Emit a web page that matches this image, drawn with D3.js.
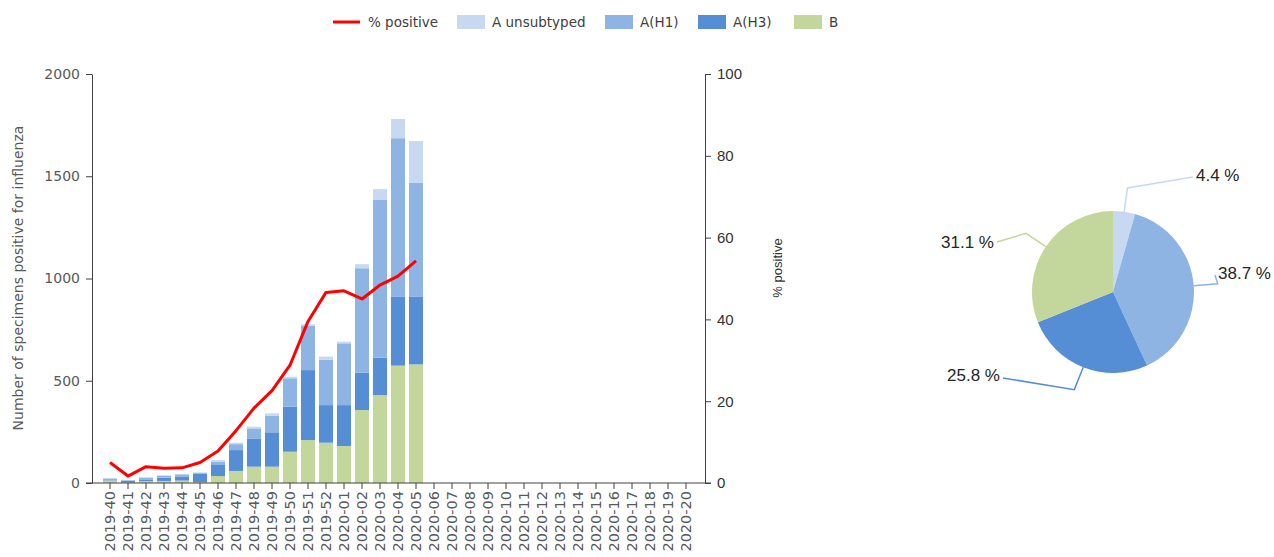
<!DOCTYPE html>
<meta charset="utf-8">
<style>
body { margin: 0; background: #fff; }
svg text { font-family: "DejaVu Sans", sans-serif; }
.axis path, .axis line { stroke: #404040; }
.left text { fill: #595959; font-size: 14px; }
.right text { fill: #333; font-size: 15px; font-family: "Liberation Sans", Arial, sans-serif; }
.xaxis text { fill: #595959; font-size: 14.5px; }
</style>
<svg width="1274" height="557"></svg>
<script src="https://d3js.org/d3.v7.min.js"></script>
<script>

// weeks on the x axis
var weeks = ["2019-40","2019-41","2019-42","2019-43","2019-44","2019-45","2019-46","2019-47",
  "2019-48","2019-49","2019-50","2019-51","2019-52","2020-01","2020-02","2020-03","2020-04",
  "2020-05","2020-06","2020-07","2020-08","2020-09","2020-10","2020-11","2020-12","2020-13",
  "2020-14","2020-15","2020-16","2020-17","2020-18","2020-19","2020-20"];

// counts per week (only first 18 weeks reported)
var typeB   = [12, 2, 9, 10, 12, 5, 34, 59, 80, 80, 153, 210, 197, 181, 357, 430, 574, 580];
var typeH3  = [2, 9, 6, 16, 20, 40, 54, 102, 138, 168, 220, 342, 184, 200, 182, 183, 336, 330];
var typeH1  = [8, 3, 11, 10, 10, 5, 16, 29, 49, 80, 139, 216, 222, 302, 511, 771, 776, 558];
var typeUns = [3, 1, 2, 2, 2, 2, 8, 7, 8, 13, 8, 8, 15, 8, 20, 53, 94, 204];
var pctPositive = [5.0, 1.7, 4.0, 3.6, 3.7, 5.0, 7.8, 12.8, 18.3, 22.6, 28.8, 39.5, 46.6, 47.0, 45.0, 48.4, 50.6, 54.3];

// season share for the pie
var pieNames = ["A unsubtyped", "A(H1)", "A(H3)", "B"];
var pieShares = [4.4, 38.7, 25.8, 31.1];

var leftTicks = [0, 500, 1000, 1500, 2000];
var rightTicks = [0, 20, 40, 60, 80, 100];

var colors = {"A unsubtyped": "#c6d9f1", "A(H1)": "#8eb4e3", "A(H3)": "#558ed5", "B": "#c3d69b"};

var svg = d3.select("svg");

var x = d3.scaleBand().domain(weeks).range([101, 695]).paddingInner(0.22).paddingOuter(0.11);
var yL = d3.scaleLinear().domain([0, 2000]).range([483, 74]);
var yR = d3.scaleLinear().domain([0, 100]).range([483, 74]);

// stacked bars
var rows = typeB.map(function(b, i) {
  return {week: weeks[i], "B": b, "A(H3)": typeH3[i], "A(H1)": typeH1[i], "A unsubtyped": typeUns[i]};
});
var stack = d3.stack().keys(["B", "A(H3)", "A(H1)", "A unsubtyped"]);

svg.append("g").selectAll("g")
  .data(stack(rows))
  .enter().append("g")
    .attr("fill", function(d) { return colors[d.key]; })
  .selectAll("rect")
  .data(function(d) { return d; })
  .enter().append("rect")
    .attr("x", function(d) { return x(d.data.week); })
    .attr("width", x.bandwidth())
    .attr("y", function(d) { return yL(d[1]); })
    .attr("height", function(d) { return yL(d[0]) - yL(d[1]); });

// axes
svg.append("g").attr("class", "axis left")
  .attr("transform", "translate(92,0)")
  .call(d3.axisLeft(yL).tickValues(leftTicks).tickFormat(d3.format("d")).tickSizeOuter(0).tickPadding(6));

svg.append("g").attr("class", "axis right")
  .attr("transform", "translate(705,0)")
  .call(d3.axisRight(yR).tickValues(rightTicks).tickSizeOuter(0).tickPadding(6));

var gx = svg.append("g").attr("class", "axis xaxis")
  .attr("transform", "translate(0,483)")
  .call(d3.axisBottom(x).tickSizeOuter(0));
gx.select(".domain").remove();
gx.append("line").attr("x1", 86).attr("x2", 711).attr("stroke", "#404040");
gx.selectAll("text")
  .attr("transform", "rotate(-90)")
  .attr("x", -8).attr("y", 0).attr("dy", "0.35em")
  .attr("text-anchor", "end");

svg.append("text")
  .attr("transform", "translate(23,278) rotate(-90)")
  .attr("text-anchor", "middle")
  .attr("fill", "#595959").style("font-size", "14px")
  .text("Number of specimens positive for influenza");

svg.append("text")
  .attr("transform", "translate(782,268) rotate(-90)")
  .attr("text-anchor", "middle")
  .attr("fill", "#333").style("font-size", "13px")
  .style("font-family", "Liberation Sans, Arial, sans-serif")
  .text("% positive");

// % positive line
var line = d3.line()
  .x(function(d, i) { return x(weeks[i]) + x.bandwidth() / 2; })
  .y(function(d) { return yR(d); });

svg.append("path")
  .datum(pctPositive)
  .attr("fill", "none")
  .attr("stroke", "#ff0000")
  .attr("stroke-width", 3)
  .attr("stroke-linejoin", "round")
  .attr("d", line);

// legend
var legendX = [333, 457, 605, 698, 794];
var legendItems = ["% positive"].concat(pieNames);
var lg = svg.append("g").selectAll("g")
  .data(legendItems)
  .enter().append("g")
    .attr("transform", function(d, i) { return "translate(" + legendX[i] + ",22)"; });

lg.each(function(d, i) {
  var g = d3.select(this);
  if (i === 0) {
    g.append("line").attr("x1", 0).attr("x2", 27).attr("stroke", "#ff0000").attr("stroke-width", 3);
  } else {
    g.append("rect").attr("x", 0).attr("y", -7).attr("width", 28).attr("height", 14).attr("fill", colors[d]);
  }
});
lg.append("text")
  .attr("x", 35)
  .attr("dy", "0.35em")
  .attr("fill", "#404040")
  .style("font-size", "13.5px")
  .text(function(d) { return d; });

// pie
var cx = 1113, cy = 292, r = 81;
var pie = d3.pie().sort(null).value(function(d) { return d; });
var arc = d3.arc().innerRadius(0).outerRadius(r);
var arcs = pie(pieShares);

var pg = svg.append("g").attr("transform", "translate(" + cx + "," + cy + ")");
pg.selectAll("path")
  .data(arcs)
  .enter().append("path")
    .attr("fill", function(d, i) { return colors[pieNames[i]]; })
    .attr("d", arc);

// label line end points relative to the centre
var labelEnds = [[80, -115], [102, -17], [-110, 86], [-116, -50]];
var labelShift = [-2, -2, -3, 0];

function polar(a, rad) { return [Math.sin(a) * rad, -Math.cos(a) * rad]; }

arcs.forEach(function(d, i) {
  var mid = (d.startAngle + d.endAngle) / 2;
  var p0 = polar(mid, r), p1 = polar(mid, 105), p2 = labelEnds[i];
  pg.append("polyline")
    .attr("points", [p0, p1, p2].map(function(p) { return p.join(","); }).join(" "))
    .attr("fill", "none")
    .attr("stroke", colors[pieNames[i]])
    .attr("stroke-width", 1.5);
  var right = p2[0] > 0;
  pg.append("text")
    .attr("x", p2[0] + (right ? 3 : -3))
    .attr("y", p2[1] + labelShift[i])
    .attr("dy", "0.35em")
    .attr("text-anchor", right ? "start" : "end")
    .attr("fill", "#262626")
    .style("font-family", "Liberation Sans, Arial, sans-serif")
    .style("font-size", "17px")
    .text(d3.format(".1f")(d.data) + " %");
});

</script>
